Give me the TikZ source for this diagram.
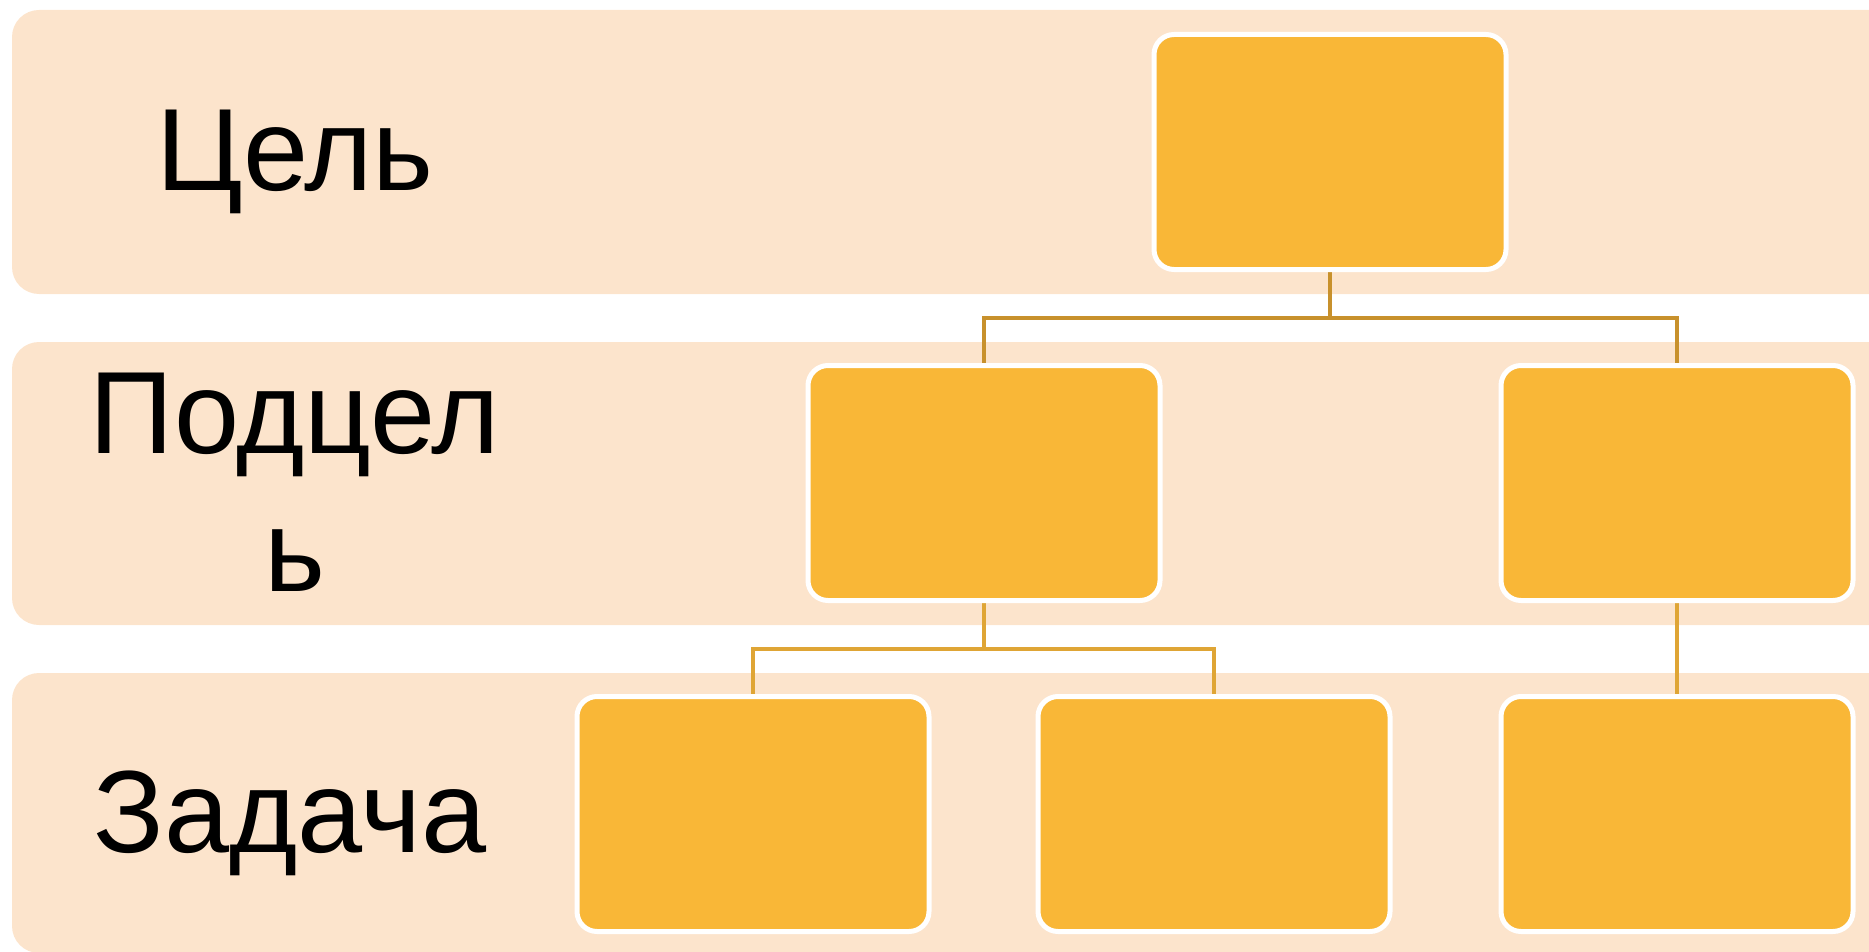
\documentclass[tikz,border=0pt]{standalone}
\usepackage{fontspec}
\setmainfont{Liberation Sans}
\definecolor{bandfill}{HTML}{FCE4CC}
\definecolor{boxfill}{HTML}{F9B737}
\definecolor{connA}{HTML}{C8912C}
\definecolor{connB}{HTML}{DFA535}
\pgfdeclarelayer{bands}
\pgfdeclarelayer{conns}
\pgfsetlayers{bands,conns,main}
\tikzset{
  band/.style={fill=bandfill, draw=none, rounded corners=27pt},
  orgbox/.style={rectangle, rounded corners=20pt, fill=boxfill, draw=white, line width=5pt,
    minimum width=352pt, minimum height=235pt, inner sep=0pt},
  lbl/.style={font=\fontsize{117}{126}\selectfont, align=center, inner sep=0pt, text=black},
  connline/.style={line width=4.5pt}
}
\begin{document}
\begin{tikzpicture}[x=1pt,y=-1pt]
\useasboundingbox (0,0) rectangle (1869,952);
\clip (0,0) rectangle (1869,952);
\begin{pgfonlayer}{bands}
\fill[band] (12,10) rectangle (1900,294);
\fill[band] (12,342) rectangle (1900,625);
\fill[band] (12,673) rectangle (1900,953);
\end{pgfonlayer}
% labels
\node[lbl, anchor=base] (l1) at (295,191) {Цель};
\node[lbl] (l2) at (295,482) {Подцел\\[12pt]ь};
\node[lbl, anchor=base] (l3) at (290,852) {Задача};
% boxes
\node[orgbox] (top) at (1330,152) {};
\node[orgbox] (ml) at (984,483) {};
\node[orgbox] (mr) at (1677,483) {};
\node[orgbox] (b1) at (753,814) {};
\node[orgbox] (b2) at (1214,814) {};
\node[orgbox] (b3) at (1677,814) {};
% connectors
\coordinate (j1) at (1330,318);
\coordinate (j2) at (984,649);
\begin{pgfonlayer}{conns}
\draw[connline, draw=connA] (top.south) -- (j1) -| (ml.north);
\draw[connline, draw=connA] (j1) -| (mr.north);
\draw[connline, draw=connB] (ml.south) -- (j2) -| (b1.north);
\draw[connline, draw=connB] (j2) -| (b2.north);
\draw[connline, draw=connB] (mr.south) -- (b3.north);
\end{pgfonlayer}
\end{tikzpicture}
\end{document}
